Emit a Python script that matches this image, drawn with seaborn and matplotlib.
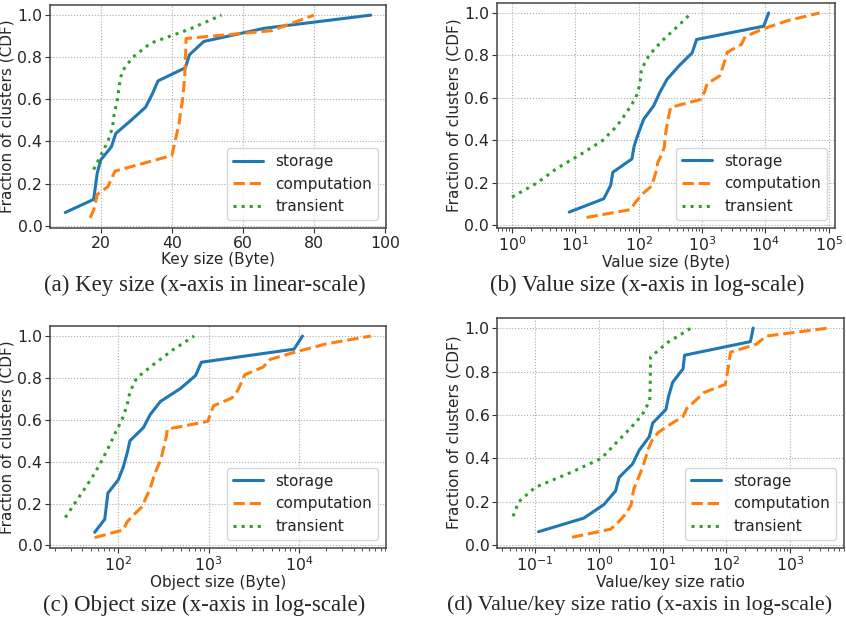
import numpy as np
import pandas as pd
import matplotlib
matplotlib.use("Agg")
import matplotlib.pyplot as plt
import seaborn as sns

# Per-cluster measurements, one value per cluster
clusters = ["storage", "computation", "transient"]

key_storage = [10, 18, 18.5, 19, 20, 23, 24.2, 28.5, 32.6, 34.5, 36.1, 43.8, 45, 49, 66, 96]
key_computation = [17, 18, 18.5, 19, 22, 23, 24, 32, 40, 40.5, 41, 41.5, 42, 42.3, 42.6,
                   43, 43.2, 43.4, 43.6, 43.7, 43.8, 43.9, 44, 44, 68, 74, 80]
key_transient = [18, 18, 18, 18, 20, 22, 23.3, 23.8, 24.7, 25.2, 26, 29, 34, 45, 54]

value_storage = [8, 28, 36, 39, 78, 85, 100, 120, 172, 215, 280, 430, 700, 820, 9400, 11300]
value_computation = [15, 74, 90, 115, 160, 175, 190, 200, 230, 255, 260, 270, 285, 300, 320,
                     950, 1100, 1200, 1900, 2100, 2300, 2500, 4200, 4800, 9500, 22000, 72000]
value_transient = [1, 1, 2.5, 5, 12, 27, 45, 65, 90, 105, 110, 145, 230, 400, 680]

object_storage = [55, 71, 74, 77, 100, 114, 125, 135, 190, 226, 293, 490, 720, 830, 8800, 10900]
object_computation = [55, 114, 125, 150, 185, 200, 220, 235, 250, 270, 295, 310, 325, 340, 350,
                      980, 1050, 1130, 1800, 2100, 2300, 2500, 4000, 4800, 9500, 20000, 62000]
object_transient = [26, 26, 33, 42, 53, 65, 78, 92, 110, 125, 135, 160, 250, 400, 690]

ratio_storage = [0.113, 0.58, 1.2, 1.83, 2.08, 3.4, 4.3, 6.2, 7.0, 11.3, 12.5, 14.4, 21, 22.2, 240, 265]
ratio_computation = [0.38, 1.53, 2.1, 2.7, 3.2, 3.35, 3.55, 4.0, 4.5, 5.0, 5.5, 6.0, 6.8, 8.5, 13,
                     21, 24, 33, 45, 97, 102, 107, 112, 117, 300, 420, 4000]
ratio_transient = [0.045, 0.045, 0.055, 0.1, 0.35, 1.1, 1.8, 3.0, 4.8, 6.3, 6.4, 6.45, 6.5, 12, 28]

panels = [
    dict(data=[key_storage, key_computation, key_transient], xlabel="Key size (Byte)",
         log=False, caption="(a) Key size (x-axis in linear-scale)"),
    dict(data=[value_storage, value_computation, value_transient], xlabel="Value size (Byte)",
         log=True, caption="(b) Value size (x-axis in log-scale)"),
    dict(data=[object_storage, object_computation, object_transient], xlabel="Object size (Byte)",
         log=True, caption="(c) Object size (x-axis in log-scale)"),
    dict(data=[ratio_storage, ratio_computation, ratio_transient], xlabel="Value/key size ratio",
         log=True, caption="(d) Value/key size ratio (x-axis in log-scale)"),
]

W, H = 846, 623
# axes boxes in pixels: left, top, right, bottom
boxes = [(50, 5, 386, 228), (496.7, 2.7, 835, 227.7),
         (50, 326, 386, 547.7), (497.3, 317.6, 844, 547.7)]
# caption anchor (x, y), alignment and size
captions = [(205, 285, "center", 16.5), (647, 285, "center", 16.5),
            (204, 605, "center", 16.5), (447, 605, "left", 15.8)]

palette = sns.color_palette("tab10", 3)
styles = ["-", "--", ":"]

sns.set_theme(style="ticks")
plt.rcParams["font.family"] = ["DejaVu Sans"]

fig = plt.figure(figsize=(W / 100, H / 100), dpi=100)


def cdf(values):
    v = np.sort(np.asarray(values, dtype=float))
    xs, counts = np.unique(v, return_counts=True)
    return xs, np.cumsum(counts) / len(v)


for panel, (l, t, r, b), (cx, cy, ha, fs) in zip(panels, boxes, captions):
    ax = fig.add_axes([l / W, 1 - b / H, (r - l) / W, (b - t) / H])
    for name, vals, color, ls in zip(clusters, panel["data"], palette, styles):
        xs, ys = cdf(vals)
        frame = pd.DataFrame({"x": xs, "cdf": ys})
        sns.lineplot(data=frame, x="x", y="cdf", ax=ax, color=color, linestyle=ls,
                     linewidth=2.2, label=name, estimator=None, sort=False)
    if panel["log"]:
        ax.set_xscale("log")
    ax.set_yticks([0.0, 0.2, 0.4, 0.6, 0.8, 1.0])
    ax.set_xlabel(panel["xlabel"], fontsize=11, labelpad=1)
    ax.set_ylabel("Fraction of clusters (CDF)", fontsize=11, labelpad=2)
    ax.tick_params(axis="both", which="major", labelsize=11.3, length=3.5, width=0.8,
                   color="#333333", pad=2)
    ax.tick_params(axis="both", which="minor", length=2, width=0.6, color="#333333")
    ax.grid(True, which="major", linestyle=":", color="#aaaaaa", linewidth=0.8)
    for sp in ax.spines.values():
        sp.set_visible(True)
        sp.set_color("#444444")
        sp.set_linewidth(1.1)
    ax.legend(loc="lower right", fontsize=11, handlelength=2.0, framealpha=0.8,
              edgecolor="#cccccc")
    fig.text(cx / W, 1 - cy / H, panel["caption"], ha=ha, va="center",
             fontsize=fs, family=["Liberation Serif", "DejaVu Serif"])

fig.savefig("out.png", dpi=100)
